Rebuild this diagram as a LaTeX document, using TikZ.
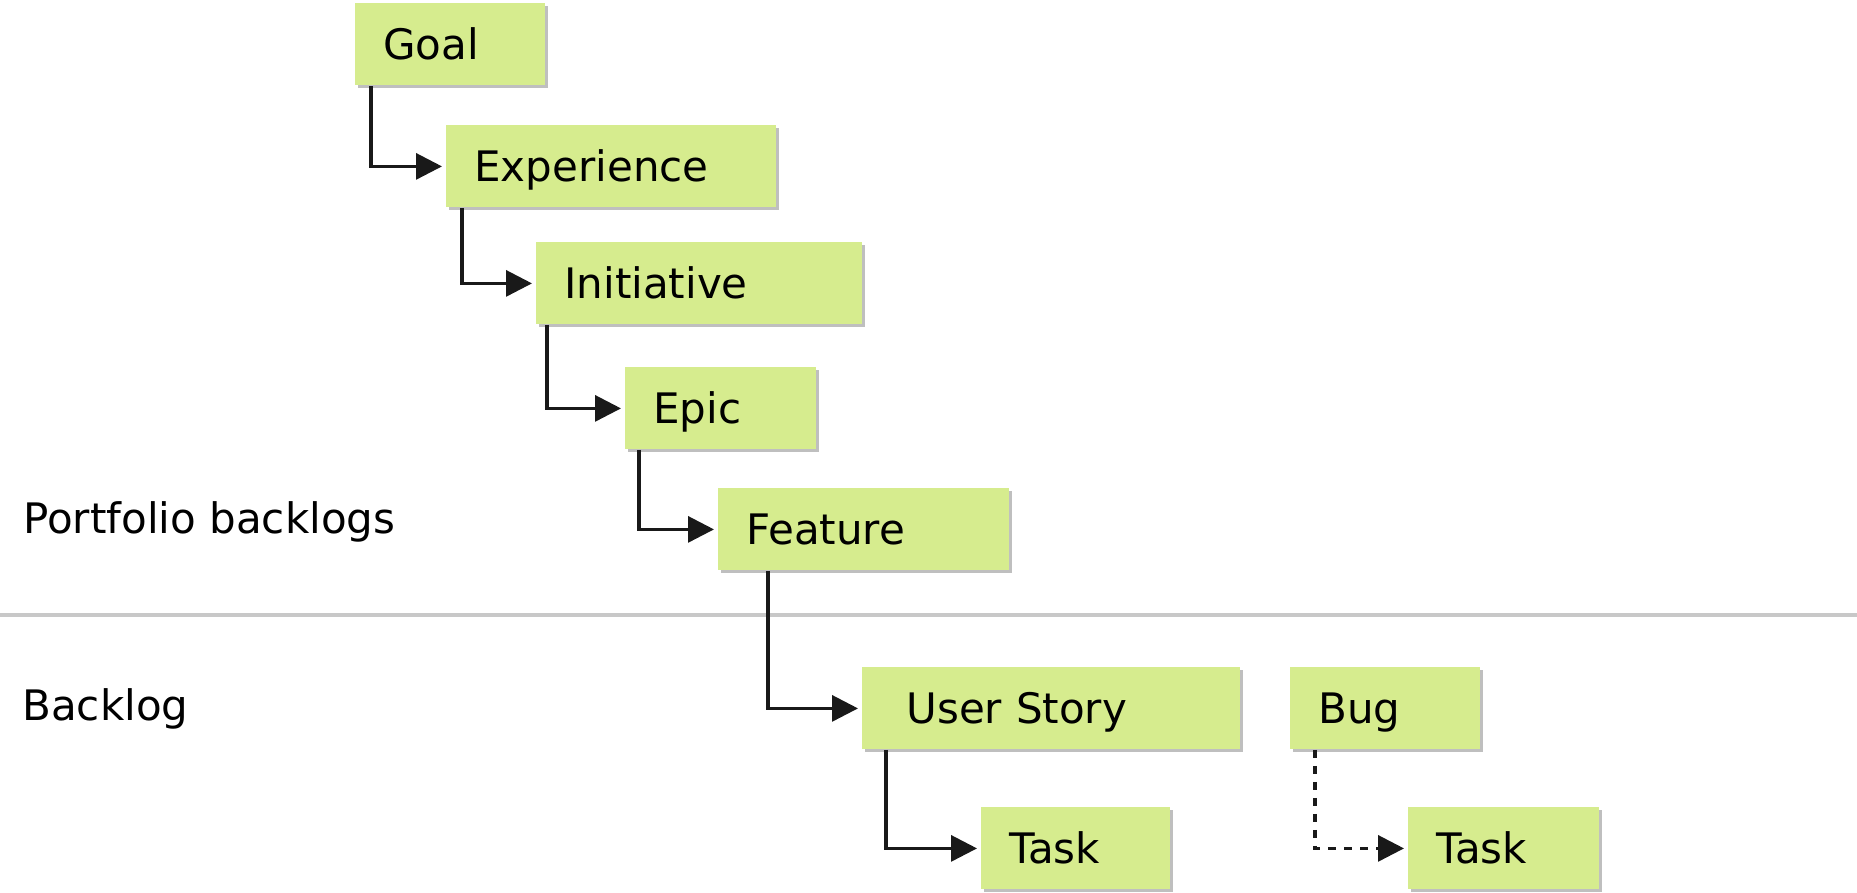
\documentclass[tikz,border=0pt]{standalone}
\usepackage{fontspec}
\setmainfont{DejaVu Sans}
\usetikzlibrary{arrows.meta}
\usetikzlibrary{shadows}
\definecolor{itemgreen}{RGB}{214,236,142}
\definecolor{rulegray}{RGB}{200,200,200}

\begin{document}
\begin{tikzpicture}[x=0.5pt,y=-0.5pt,
                font=\fontsize{21}{25}\selectfont,
                block/.style={rectangle, anchor=north west, fill=itemgreen,
                    drop shadow={shadow xshift=1.2pt,shadow yshift=-1.2pt,fill=black,opacity=0.25},
                    minimum height=41pt, inner xsep=14pt, inner ysep=0pt,
                    text height=15.2pt, text depth=0pt, align=left, text width=#1},
                lanetext/.style={anchor=west, inner sep=0pt, text height=15.2pt, text depth=0pt},
                arrow/.style={draw, line width=1.6pt, black!90, -{Triangle[length=13pt,width=13pt]}, shorten >=2pt}
            ]
            \fill[white] (0,0) rectangle (1857,893);
            \useasboundingbox (0,0) rectangle (1857,893);
            % lanes
            \draw[rulegray, line width=2.2pt] (0,615) -- (1857,615);
            \node[lanetext] (portfolio) at (23,518) {Portfolio backlogs};
            \node[lanetext] (backlog) at (22,705) {Backlog};
            % work items
            \node[block=67pt] (goal) at (355,3) {Goal};
            \node[block=137pt] (exp) at (446,125) {Experience};
            \node[block=135pt] (init) at (536,242) {Initiative};
            \node[block=67.5pt] (epic) at (625,367) {Epic};
            \node[block=117.5pt] (feat) at (718,488) {Feature};
            \node[block=145pt, inner xsep=22pt] (story) at (862,667) {User Story};
            \node[block=67pt] (bug) at (1290,667) {Bug};
            \node[block=66.5pt] (task) at (981,807) {Task};
            \node[block=67.5pt] (bugtask) at (1408,807) {Task};
            \path[arrow] ([xshift=8pt]goal.south west) |- (exp.west);
            \path[arrow] ([xshift=8pt]exp.south west) |- (init.west);
            \path[arrow] ([xshift=5.5pt]init.south west) |- (epic.west);
            \path[arrow] ([xshift=7pt]epic.south west) |- (feat.west);
            \path[arrow] ([xshift=25pt]feat.south west) |- (story.west);
            \path[arrow] ([xshift=12pt]story.south west) |- (task.west);
            \path[arrow, dash pattern=on 4pt off 4pt] ([xshift=12.5pt]bug.south west) |- (bugtask.west);
        \end{tikzpicture}
\end{document}
